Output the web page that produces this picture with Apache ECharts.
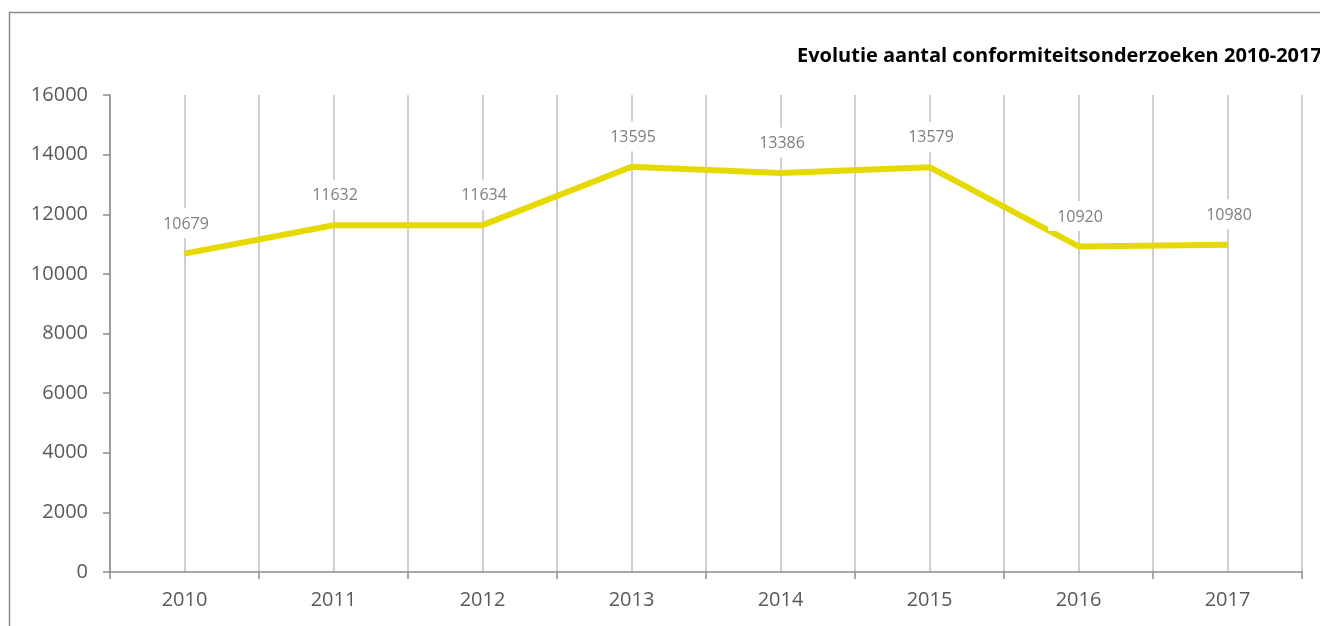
<!DOCTYPE html>
<html>
<head>
<meta charset="utf-8">
<script src="https://cdn.jsdelivr.net/npm/echarts@6/dist/echarts.min.js"></script>
<style>
  html, body { margin: 0; padding: 0; background: #fff; }
  #chart { width: 1320px; height: 626px; }
</style>
</head>
<body>
<div id="chart"></div>
<script>
const years = ["2010", "2011", "2012", "2013", "2014", "2015", "2016", "2017"];
const counts = [10679, 11632, 11634, 13595, 13386, 13579, 10920, 10980];
const titleText = "Evolutie aantal conformiteitsonderzoeken 2010-2017";

const chart = echarts.init(document.getElementById("chart"));
const axisGray = "#8c8c8c";
const gridGray = "#bfbfbf";
const font = "'Open Sans', 'Noto Sans', sans-serif";

chart.setOption({
  animation: false,
  title: {
    text: titleText,
    left: 792,
    top: 41,
    textStyle: { fontFamily: font, fontSize: 20, fontWeight: "bold", color: "#000" }
  },
  graphic: [{
    type: "rect",
    shape: { x: 9.5, y: 12.5, width: 1340, height: 640 },
    style: { fill: "none", stroke: axisGray, lineWidth: 1.5 },
    z: -10
  }],
  grid: { left: 110, right: 18, top: 95, bottom: 54 },
  xAxis: [
    {
      type: "category",
      data: years,
      boundaryGap: true,
      axisLine: { lineStyle: { color: axisGray, width: 1.5 } },
      axisTick: { show: true, length: 7, lineStyle: { color: axisGray, width: 1.5 } },
      axisLabel: { color: "#595959", fontSize: 20, fontFamily: font, margin: 18 },
      splitLine: { show: false }
    },
    {
      // helper axis: vertical gridlines at every half category
      type: "value",
      position: "top",
      min: 0,
      max: years.length * 2,
      interval: 1,
      axisLine: { show: false },
      axisTick: { show: false },
      axisLabel: { show: false },
      splitLine: { show: true, lineStyle: { color: gridGray, width: 1.5 } }
    }
  ],
  yAxis: {
    type: "value",
    min: 0,
    max: 16000,
    interval: 2000,
    axisLine: { show: true, lineStyle: { color: axisGray, width: 1.5 } },
    axisTick: { show: true, length: 7, lineStyle: { color: axisGray, width: 1.5 } },
    axisLabel: {
      color: "#595959", fontSize: 20, fontFamily: font, margin: 22,
      formatter: (v) => String(v)
    },
    splitLine: { show: false }
  },
  series: [{
    type: "line",
    xAxisIndex: 0,
    data: counts,
    showSymbol: true,
    symbol: "circle",
    symbolSize: 1,
    itemStyle: { color: "#e6d900" },
    lineStyle: { color: "#e6d900", width: 6 },
    label: {
      show: true,
      position: "top",
      distance: 15,
      color: "#7f7f7f",
      fontSize: 16,
      fontFamily: font,
      backgroundColor: "#fff",
      padding: [8, 6, 6, 9]
    },
    labelLayout: { hideOverlap: false },
    z: 5
  }]
});
</script>
</body>
</html>
